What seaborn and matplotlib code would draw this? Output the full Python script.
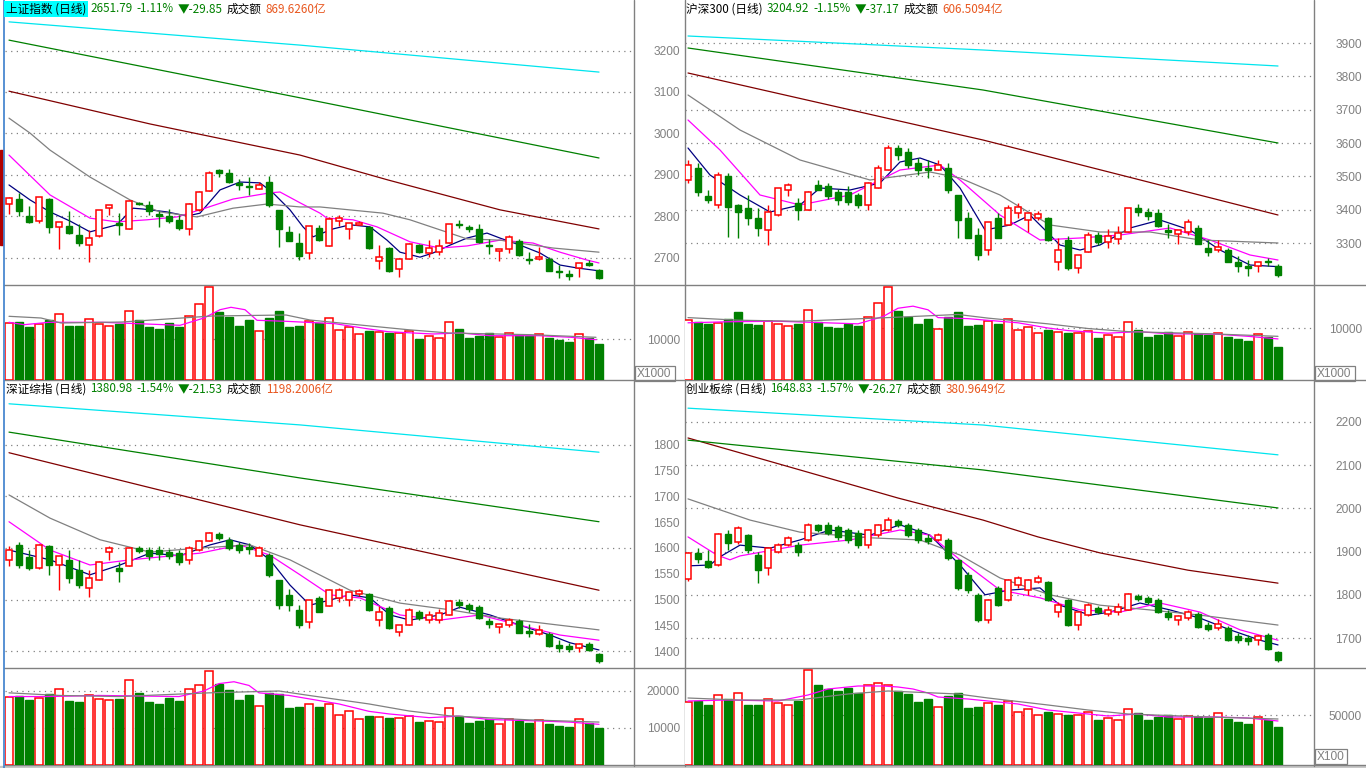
import numpy as np
import matplotlib
matplotlib.use("Agg")
import matplotlib.pyplot as plt
import seaborn as sns
from matplotlib.patches import Rectangle

W, H = 1366, 768
RED = "#FF0000"
GREEN = "#008000"
GRID = "#808080"
ORANGE = "#E8561E"

sns.set_theme(style="white")
plt.rcParams['font.family'] = ['Noto Sans CJK SC', 'DejaVu Sans']

# ---------------- 上证指数 ----------------
sh_open = [2829, 2841, 2800, 2788, 2843, 2774, 2777, 2756, 2731, 2752,
           2820, 2785, 2771, 2833, 2828, 2806, 2801, 2792, 2769, 2815,
           2861, 2912, 2906, 2881, 2872, 2866, 2883, 2816, 2763, 2737,
           2711, 2772, 2729, 2790, 2769, 2780, 2775, 2692, 2723, 2673,
           2698, 2731, 2713, 2715, 2735, 2782, 2774, 2770, 2731, 2716,
           2721, 2741, 2697, 2697, 2698, 2669, 2661, 2677, 2689, 2671]
sh_high = [2848, 2857, 2825, 2846, 2845, 2787, 2814, 2782, 2768, 2815,
           2827, 2808, 2840, 2836, 2838, 2814, 2817, 2804, 2833, 2862,
           2910, 2914, 2914, 2890, 2896, 2882, 2898, 2816, 2777, 2760,
           2778, 2780, 2798, 2804, 2785, 2788, 2777, 2731, 2727, 2697,
           2737, 2734, 2743, 2745, 2781, 2792, 2780, 2781, 2745, 2721,
           2755, 2745, 2715, 2727, 2703, 2683, 2671, 2687, 2695, 2673]
sh_low = [2805, 2801, 2784, 2784, 2760, 2722, 2758, 2730, 2691, 2750,
          2803, 2755, 2771, 2828, 2804, 2775, 2784, 2768, 2755, 2813,
          2861, 2895, 2880, 2864, 2851, 2866, 2824, 2727, 2740, 2695,
          2697, 2742, 2729, 2777, 2745, 2779, 2722, 2674, 2667, 2655,
          2698, 2713, 2702, 2707, 2735, 2772, 2762, 2737, 2710, 2693,
          2713, 2705, 2685, 2695, 2668, 2651, 2647, 2655, 2681, 2649]
sh_close = [2844, 2814, 2787, 2846, 2775, 2787, 2761, 2735, 2747, 2815,
            2827, 2780, 2837, 2830, 2814, 2800, 2789, 2772, 2830, 2859,
            2906, 2904, 2884, 2875, 2870, 2876, 2828, 2769, 2742, 2705,
            2778, 2743, 2793, 2796, 2785, 2784, 2724, 2703, 2669, 2697,
            2733, 2715, 2723, 2729, 2781, 2779, 2771, 2739, 2728, 2721,
            2750, 2706, 2694, 2702, 2669, 2666, 2657, 2687, 2682, 2651.79]
sh_vol = [13902, 14073, 13000, 13585, 14707, 16024, 13244, 13244, 14805, 13732,
          13171, 13732, 16756, 14634, 13000, 12512, 13902, 13000, 15536, 18463,
          22610, 16585, 15439, 13244, 14634, 11878, 15195, 16829, 13000, 13244,
          14463, 13902, 15122, 12122, 12927, 11146, 12024, 11707, 11537, 11463,
          12024, 10000, 10732, 10244, 14073, 12439, 10317, 10805, 11463, 10415,
          11390, 11049, 10805, 11293, 10244, 9756, 9268, 11146, 10244, 8780]
sh_ma5 = [(0, 2876), (2.1, 2840), (4.1, 2811), (6.1, 2789), (8.1, 2763), (10.8, 2780),
          (12.4, 2820), (13.4, 2818), (15.8, 2811), (17.8, 2801), (19.1, 2808),
          (21.1, 2864), (23.1, 2883), (25.1, 2881), (26.4, 2857), (28.1, 2816),
          (29.4, 2775), (30.4, 2751), (32.4, 2770), (34.1, 2780), (36.1, 2775),
          (37.8, 2743), (39.1, 2714), (41.1, 2702), (42.4, 2712), (44.1, 2731),
          (45.8, 2748), (47.8, 2760), (49.1, 2748), (51.1, 2731), (53.1, 2712),
          (55.1, 2683), (56.8, 2676), (59, 2669)]
sh_ma10 = [(0, 2948), (4.1, 2852), (8.1, 2796), (10.8, 2787), (13.8, 2792), (16.8, 2799),
           (19.1, 2816), (22.4, 2842), (26.1, 2857), (27.1, 2859), (29.1, 2833),
           (31.1, 2808), (31.8, 2796), (34.4, 2792), (36.8, 2775), (40.1, 2739),
           (43.1, 2724), (45.8, 2729), (49.1, 2743), (52.4, 2736), (55.1, 2714),
           (57.8, 2695), (59, 2688)]
sh_ma20 = [(0, 3037), (2.1, 3001), (4.1, 2960), (8.1, 2895), (12.1, 2840), (15.1, 2811),
           (18.8, 2799), (22.4, 2820), (25.8, 2830), (29.1, 2823), (31.1, 2823),
           (37.4, 2808), (40.1, 2792), (45.8, 2746), (49.1, 2743), (54.4, 2724), (59, 2714)]
sh_ma60 = [(0, 3102), (14.1, 3023), (29.1, 2948), (37.9, 2888), (49.1, 2816), (59, 2770)]
sh_ma120 = [(0, 3225), (29.1, 3086), (59, 2941)]
sh_ma250 = [(0, 3269), (29.1, 3213), (59, 3148)]
sh_vma5 = [(0, 14073), (1.5, 13488), (4, 14073), (9.3, 14073), (17.1, 13341), (19.5, 15122),
           (21.1, 17146), (22.2, 17732), (23.6, 17146), (24.8, 14561), (27.7, 14317),
           (32.6, 13732), (35.8, 12512), (37.9, 11780), (42.4, 11220), (45.2, 11463),
           (48.1, 10805), (53, 10805), (56.2, 10415), (58.7, 9829)]
sh_vma10 = [(0, 15536), (3.2, 15122), (5.2, 13902), (11.3, 14146), (20.3, 15610),
            (27.7, 15854), (30.1, 14634), (35.8, 13244), (39.9, 12268), (44, 11463),
            (52.2, 11049), (58.7, 10415)]

# ---------------- 沪深300 ----------------
hs_open = [3489, 3525, 3441, 3414, 3501, 3414, 3405, 3375, 3339, 3384,
           3459, 3420, 3399, 3474, 3471, 3453, 3453, 3444, 3414, 3465,
           3519, 3585, 3573, 3540, 3525, 3519, 3525, 3444, 3375, 3324,
           3279, 3375, 3354, 3390, 3369, 3375, 3375, 3243, 3309, 3225,
           3273, 3324, 3303, 3312, 3333, 3405, 3393, 3390, 3339, 3327,
           3333, 3345, 3285, 3279, 3279, 3243, 3231, 3231, 3246, 3231]
hs_high = [3549, 3540, 3459, 3513, 3510, 3417, 3444, 3405, 3414, 3465,
           3480, 3435, 3456, 3489, 3480, 3462, 3471, 3450, 3483, 3534,
           3594, 3594, 3585, 3555, 3549, 3549, 3540, 3444, 3393, 3345,
           3363, 3390, 3414, 3420, 3390, 3396, 3378, 3315, 3321, 3264,
           3333, 3333, 3342, 3351, 3405, 3417, 3405, 3402, 3357, 3339,
           3372, 3354, 3309, 3309, 3285, 3261, 3249, 3243, 3255, 3237]
hs_low = [3480, 3441, 3420, 3405, 3318, 3315, 3354, 3321, 3294, 3381,
          3441, 3369, 3399, 3459, 3432, 3414, 3414, 3405, 3399, 3465,
          3519, 3549, 3525, 3504, 3495, 3519, 3450, 3315, 3315, 3249,
          3264, 3315, 3354, 3375, 3333, 3369, 3306, 3219, 3219, 3210,
          3273, 3294, 3285, 3297, 3333, 3381, 3369, 3348, 3315, 3297,
          3324, 3297, 3261, 3273, 3243, 3213, 3201, 3213, 3231, 3198]
hs_close = [3534, 3453, 3429, 3504, 3408, 3393, 3375, 3345, 3393, 3465,
            3474, 3399, 3453, 3459, 3441, 3429, 3423, 3414, 3480, 3525,
            3585, 3564, 3534, 3519, 3519, 3534, 3459, 3369, 3315, 3264,
            3363, 3315, 3405, 3408, 3390, 3387, 3309, 3279, 3225, 3264,
            3324, 3303, 3321, 3330, 3405, 3393, 3381, 3351, 3333, 3339,
            3363, 3297, 3273, 3288, 3243, 3231, 3225, 3243, 3242, 3204.92]
hs_vol = [11500, 11200, 10800, 11000, 11800, 13000, 10800, 10500, 11400, 10800,
          10400, 10800, 13500, 11200, 10200, 10000, 10800, 10300, 12200, 14800,
          17900, 13300, 12200, 10800, 11800, 9800, 12200, 13000, 10300, 10500,
          11300, 10800, 11800, 9700, 10200, 9000, 9600, 9200, 9100, 9000,
          9500, 8000, 8600, 8300, 11200, 9700, 8300, 8700, 9200, 8400,
          9200, 8900, 8600, 9000, 8200, 7800, 7500, 8900, 8200, 6400]
hs_ma5 = [(0, 3585), (2.2, 3504), (5.2, 3444), (8.2, 3393), (11.2, 3414), (13.2, 3465),
          (16.2, 3459), (19.2, 3480), (21.2, 3543), (23.2, 3555), (25.2, 3534),
          (27.2, 3465), (29.7, 3339), (32.2, 3354), (34.2, 3384), (37.2, 3294),
          (39.2, 3279), (41.2, 3294), (44.2, 3345), (47.2, 3369), (50.2, 3339),
          (53.2, 3279), (56.2, 3234), (59, 3229)]
hs_ma10 = [(0, 3669), (3.2, 3579), (7.2, 3444), (11.2, 3414), (16.2, 3444), (21.2, 3519),
           (25.2, 3534), (27.2, 3489), (31.2, 3384), (35.2, 3309), (39.2, 3315),
           (43.2, 3324), (48.2, 3345), (52.2, 3309), (56.2, 3264), (59, 3249)]
hs_ma20 = [(0, 3744), (5.2, 3639), (11.2, 3549), (18.2, 3489), (24.2, 3513), (27.2, 3495),
           (31.2, 3444), (36.2, 3354), (41.2, 3333), (46.2, 3333), (51.2, 3309), (59, 3300)]
hs_ma60 = [(0, 3810), (29.5, 3609), (59, 3384)]
hs_ma120 = [(0, 3885), (29.5, 3759), (59, 3600)]
hs_ma250 = [(0, 3921), (29.5, 3879), (59, 3831)]
hs_vma5 = [(0, 11000), (4, 11200), (9, 11300), (17, 10800), (19.5, 12200), (21, 13800),
           (22.5, 14200), (24, 13500), (25, 12000), (28, 11800), (33, 11000), (36, 10000),
           (38, 9500), (42, 9000), (45, 9300), (48, 8900), (53, 8800), (56, 8400), (59, 7900)]
hs_vma10 = [(0, 12000), (5, 11500), (11, 11300), (20, 12000), (27, 12600), (30, 11900),
            (36, 10800), (40, 9900), (44, 9300), (52, 8900), (59, 8400)]

# ---------------- 深证综指 ----------------
sz_open = [1577, 1606, 1583, 1561, 1604, 1567, 1577, 1557, 1522, 1538,
           1592, 1561, 1565, 1600, 1596, 1596, 1592, 1590, 1577, 1596,
           1614, 1627, 1616, 1606, 1602, 1585, 1586, 1538, 1509, 1480,
           1456, 1503, 1487, 1503, 1499, 1511, 1511, 1460, 1484, 1437,
           1450, 1476, 1460, 1460, 1470, 1495, 1489, 1485, 1458, 1447,
           1450, 1458, 1439, 1433, 1433, 1412, 1410, 1406, 1414, 1394]
sz_high = [1604, 1612, 1596, 1608, 1606, 1585, 1596, 1577, 1557, 1575,
           1604, 1573, 1602, 1604, 1602, 1604, 1598, 1596, 1604, 1616,
           1631, 1631, 1621, 1612, 1610, 1604, 1590, 1538, 1520, 1490,
           1499, 1507, 1520, 1522, 1515, 1521, 1513, 1488, 1488, 1450,
           1484, 1480, 1478, 1482, 1499, 1501, 1493, 1489, 1464, 1452,
           1464, 1462, 1452, 1450, 1437, 1421, 1416, 1416, 1418, 1396]
sz_low = [1565, 1561, 1557, 1559, 1548, 1518, 1532, 1522, 1505, 1538,
          1577, 1534, 1565, 1590, 1577, 1577, 1579, 1567, 1569, 1594,
          1614, 1615, 1596, 1590, 1588, 1585, 1544, 1482, 1478, 1445,
          1445, 1476, 1487, 1495, 1488, 1507, 1478, 1448, 1443, 1430,
          1450, 1460, 1454, 1454, 1470, 1484, 1476, 1462, 1445, 1435,
          1447, 1435, 1428, 1431, 1408, 1398, 1398, 1398, 1400, 1377]
sz_close = [1596, 1567, 1561, 1606, 1567, 1585, 1542, 1528, 1542, 1573,
            1600, 1555, 1600, 1594, 1585, 1588, 1585, 1573, 1600, 1614,
            1629, 1619, 1600, 1596, 1598, 1600, 1548, 1489, 1489, 1450,
            1499, 1476, 1518, 1518, 1515, 1517, 1480, 1476, 1445, 1450,
            1480, 1464, 1470, 1474, 1497, 1489, 1482, 1464, 1452, 1452,
            1460, 1435, 1435, 1441, 1410, 1406, 1404, 1414, 1402.51, 1380.98]
sz_vol = [18300, 18600, 17600, 18100, 19200, 20500, 17400, 17100, 18900, 17800,
          17600, 17800, 23000, 19500, 17000, 16500, 18000, 17300, 20500, 21500,
          25500, 21800, 20300, 17700, 18900, 16000, 19400, 19200, 15400, 15800,
          16500, 15600, 16600, 13600, 14500, 12500, 13300, 13000, 12700, 12600,
          13300, 11500, 12000, 11700, 15400, 13300, 11300, 12000, 12300, 11100,
          12300, 11800, 11400, 12200, 11100, 10600, 10400, 12300, 11300, 10000]
sz_ma5 = [(0, 1596), (4.1, 1577), (8.1, 1548), (11.1, 1567), (14.1, 1590), (17.1, 1585),
          (20.1, 1606), (22.1, 1616), (24.1, 1606), (26.1, 1577), (28.1, 1528),
          (30.1, 1489), (32.1, 1499), (34.1, 1509), (36.1, 1503), (38.1, 1470),
          (40.1, 1460), (43.1, 1470), (45.1, 1485), (48.1, 1470), (51.1, 1450),
          (54.1, 1431), (56.1, 1416), (59, 1402)]
sz_ma10 = [(0, 1651), (4.1, 1596), (8.1, 1567), (12.1, 1577), (19.1, 1590), (23.1, 1606),
           (26.1, 1586), (29.1, 1548), (32.1, 1509), (35.1, 1503), (39.1, 1470),
           (43.1, 1460), (47.1, 1470), (51.1, 1450), (55.1, 1431), (59, 1421)]
sz_ma20 = [(0, 1703), (4.1, 1658), (9.1, 1616), (14.1, 1592), (19.1, 1600), (24.1, 1606),
           (28.1, 1577), (34.1, 1518), (39.1, 1493), (44.1, 1480), (49.1, 1464),
           (55.1, 1450), (59, 1441)]
sz_ma60 = [(0, 1785), (29.1, 1645), (59, 1518)]
sz_ma120 = [(0, 1825), (29.1, 1736), (59, 1651)]
sz_ma250 = [(0, 1880), (29.1, 1839), (59, 1786)]
sz_vma5 = [(0, 18500), (4, 18500), (9, 18800), (17, 18500), (19.5, 20000), (21, 22000),
           (22.5, 22500), (24, 21500), (25, 19500), (28, 18800), (33, 16500), (36, 14500),
           (38, 13800), (42, 12800), (45, 13200), (48, 12300), (53, 11900), (56, 11600), (59, 11000)]
sz_vma10 = [(0, 19500), (5, 18800), (11, 18500), (20, 19500), (27, 20000), (30, 18800),
            (36, 16500), (40, 14600), (44, 13300), (52, 12200), (59, 11600)]

# ---------------- 创业板综 ----------------
cy_open = [1837, 1897, 1878, 1869, 1941, 1922, 1938, 1892, 1862, 1899,
           1915, 1915, 1927, 1962, 1962, 1957, 1950, 1943, 1915, 1938,
           1950, 1971, 1962, 1950, 1932, 1927, 1927, 1881, 1846, 1800,
           1742, 1816, 1788, 1823, 1811, 1830, 1830, 1760, 1788, 1730,
           1753, 1769, 1756, 1760, 1765, 1797, 1793, 1788, 1758, 1742,
           1746, 1756, 1730, 1723, 1723, 1705, 1700, 1695, 1707, 1668]
cy_high = [1899, 1908, 1904, 1943, 1950, 1960, 1940, 1899, 1910, 1920,
           1936, 1922, 1966, 1964, 1969, 1962, 1955, 1950, 1952, 1964,
           1980, 1976, 1966, 1955, 1940, 1943, 1932, 1883, 1853, 1804,
           1790, 1820, 1836, 1843, 1836, 1846, 1832, 1783, 1790, 1760,
           1781, 1774, 1774, 1781, 1804, 1802, 1797, 1793, 1765, 1753,
           1765, 1760, 1737, 1744, 1728, 1712, 1707, 1707, 1712, 1670]
cy_low = [1832, 1874, 1862, 1866, 1904, 1918, 1897, 1827, 1846, 1897,
          1913, 1890, 1925, 1945, 1938, 1927, 1920, 1908, 1908, 1934,
          1948, 1957, 1934, 1920, 1918, 1925, 1881, 1811, 1804, 1737,
          1735, 1774, 1786, 1816, 1800, 1827, 1786, 1749, 1728, 1719,
          1751, 1756, 1751, 1753, 1765, 1786, 1779, 1758, 1742, 1730,
          1742, 1723, 1716, 1719, 1693, 1688, 1684, 1684, 1672, 1645]
cy_close = [1897, 1883, 1864, 1941, 1920, 1955, 1904, 1857, 1908, 1915,
            1932, 1899, 1962, 1950, 1943, 1934, 1927, 1915, 1950, 1962,
            1973, 1962, 1938, 1927, 1925, 1938, 1885, 1816, 1811, 1742,
            1788, 1776, 1834, 1839, 1834, 1839, 1788, 1776, 1730, 1760,
            1776, 1760, 1765, 1772, 1802, 1790, 1783, 1760, 1749, 1751,
            1760, 1725, 1721, 1732, 1695, 1695, 1693, 1705, 1675.1, 1648.83]
cy_vol = [63000, 64000, 60000, 70000, 66000, 72000, 60000, 60000, 66000, 62000,
          60000, 64000, 95000, 80000, 76000, 74000, 77000, 72000, 80000, 82000,
          80000, 74000, 71000, 63000, 66000, 58000, 69000, 72000, 57000, 58000,
          62000, 60000, 64000, 53000, 56000, 50000, 53000, 51000, 50000, 50000,
          53000, 45000, 47000, 45000, 56000, 52000, 45000, 48000, 50000, 46000,
          49000, 48000, 47000, 52000, 46000, 43000, 41000, 48000, 45000, 38000]
cy_ma5 = [(0, 1867), (2.2, 1869), (3.2, 1888), (5.2, 1915), (8.2, 1908), (11.2, 1927),
          (14.2, 1950), (18.2, 1938), (21.2, 1962), (24.2, 1938), (27.2, 1869),
          (29.7, 1800), (32.2, 1811), (35.2, 1816), (37.2, 1776), (40.2, 1753),
          (42.2, 1760), (45.2, 1781), (48.2, 1765), (51.2, 1746), (54.2, 1719),
          (57.2, 1695), (59, 1684)]
cy_ma10 = [(0, 1934), (2.9, 1892), (4.2, 1881), (5.2, 1890), (11.2, 1915), (16.2, 1927),
           (21.2, 1950), (24.2, 1938), (27.2, 1881), (31.2, 1811), (35.2, 1793),
           (39.2, 1765), (43.2, 1760), (47.2, 1781), (51.2, 1760), (55.2, 1719), (59, 1695)]
cy_ma20 = [(0, 2022), (6.2, 1973), (11.2, 1945), (18.2, 1932), (23.2, 1927), (27.2, 1892),
           (31.2, 1839), (36.2, 1800), (41.2, 1776), (46.2, 1765), (51.2, 1753), (59, 1730)]
cy_ma60 = [(0, 2163), (11.2, 2089), (21, 2024), (29.5, 1973), (35, 1934), (41.2, 1897),
           (50, 1857), (59, 1827)]
cy_ma120 = [(0, 2158), (29.5, 2089), (59, 2001)]
cy_ma250 = [(0, 2232), (29.5, 2193), (59, 2124)]
cy_vma5 = [(0, 64000), (4, 65000), (9, 64000), (12, 70000), (14, 76000), (17, 79000),
           (19.5, 79000), (21, 78000), (22.5, 76000), (24, 72000), (25, 68000), (28, 66000),
           (33, 61000), (36, 55000), (38, 53000), (42, 49000), (45, 51000), (48, 48000),
           (53, 48000), (56, 47000), (59, 44000)]
cy_vma10 = [(0, 67000), (5, 65000), (11, 65000), (16, 71000), (20, 74000), (27, 71000),
            (30, 67000), (36, 60000), (40, 55000), (44, 51000), (52, 48000), (59, 46000)]

MA_COLORS = ["#000080", "#FF00FF", "#808080", "#800000", "#008000", "#00E5EE"]


def px_axes(fig, x0, y0, x1, y1):
    ax = fig.add_axes([x0 / W, 1 - y1 / H, (x1 - x0) / W, (y1 - y0) / H])
    ax.set_facecolor("none")
    for s in ax.spines.values():
        s.set_visible(False)
    ax.set_xticks([])
    return ax


def right_labels(ax, ticks, pad_px):
    ax.yaxis.tick_right()
    ax.set_yticks(ticks)
    ax.set_yticklabels([str(t) for t in ticks], color=GRID, fontsize=8.6,
                       family=["Liberation Sans", "DejaVu Sans"])
    ax.tick_params(axis="y", length=0, pad=pad_px * 0.72)
    for t in ax.get_yticklabels():
        t.set_ha("right")


def draw_ma(ax, pts, color):
    xs = [p[0] for p in pts]
    ys = [p[1] for p in pts]
    sns.lineplot(x=xs, y=ys, ax=ax, color=color, linewidth=0.9, sort=False,
                 estimator=None, legend=False, zorder=4)


def draw_candles(ax, o, h, l, c, minh):
    o, h, l, c = map(np.asarray, (o, h, l, c))
    x = np.arange(len(o))
    up = c >= o
    bot = np.minimum(o, c)
    hgt = np.maximum(np.abs(c - o), minh)
    ax.vlines(x[up], l[up], h[up], color=RED, lw=1.0, zorder=5)
    ax.vlines(x[~up], l[~up], h[~up], color=GREEN, lw=1.0, zorder=5)
    ax.bar(x[up], hgt[up], bottom=bot[up], width=0.62, facecolor="white",
           edgecolor=RED, linewidth=1.1, zorder=6)
    ax.bar(x[~up], hgt[~up], bottom=bot[~up], width=0.62, facecolor=GREEN,
           edgecolor=GREEN, linewidth=1.0, zorder=6)


def draw_volume(ax, o, c, v):
    o, c, v = map(np.asarray, (o, c, v))
    x = np.arange(len(v))
    up = c >= o
    ax.bar(x[up], v[up], width=0.72, facecolor="white", edgecolor=RED, linewidth=1.1, zorder=3)
    ax.bar(x[~up], v[~up], width=0.72, facecolor=GREEN, edgecolor=GREEN, linewidth=1.0, zorder=3)


fig = plt.figure(figsize=(W / 100, H / 100), dpi=100)
fig.patch.set_facecolor("white")

# background canvas in pixel coordinates
bg = fig.add_axes([0, 0, 1, 1])
bg.set_xlim(0, W)
bg.set_ylim(H, 0)
bg.axis("off")
for xv in (634, 685, 1314):
    bg.plot([xv, xv], [0, 766], color=GRID, lw=1.0)
for yv in (285, 380, 668, 765):
    bg.plot([4, W], [yv, yv], color=GRID, lw=1.0)
bg.add_patch(Rectangle((0, 766), W, 3, color="#C8C8C8"))
bg.plot([4, 4], [0, H], color="#4A88D0", lw=1.3)
bg.add_patch(Rectangle((0, 150), 3, 95, color="#B00000"))
for (bx, by, bw, txt) in [(635, 366, 40, "X1000"), (1315, 366, 40, "X1000"), (1315, 749, 32, "X100")]:
    bg.add_patch(Rectangle((bx, by), bw, 15, facecolor="white", edgecolor=GRID, lw=0.9))
    bg.text(bx + 2, by + 8, txt, color=GRID, fontsize=8.6, va="center", ha="left",
            family=["Liberation Sans", "DejaVu Sans"])

panels = [
    dict(x0=5, x1=634, y0=0, y1=285, yv1=380, first=9,
         o=sh_open, h=sh_high, l=sh_low, c=sh_close, v=sh_vol,
         ma=[sh_ma5, sh_ma10, sh_ma20, sh_ma60, sh_ma120, sh_ma250], vma=[sh_vma5, sh_vma10],
         ylim=(2634.9, 3321.7), ticks=[2700, 2800, 2900, 3000, 3100, 3200],
         grid=[2700, 2800, 2900, 3000, 3100, 3200],
         vylim=(0, 23171), vticks=[10000], pad=46),
    dict(x0=685, x1=1314, y0=0, y1=285, yv1=380, first=688,
         o=hs_open, h=hs_high, l=hs_low, c=hs_close, v=hs_vol,
         ma=[hs_ma5, hs_ma10, hs_ma20, hs_ma60, hs_ma120, hs_ma250], vma=[hs_vma5, hs_vma10],
         ylim=(3174, 4029), ticks=[3300, 3400, 3500, 3600, 3700, 3800, 3900],
         grid=[3300, 3400, 3500, 3600, 3700, 3800, 3900],
         vylim=(0, 18270), vticks=[10000], pad=48),
    dict(x0=5, x1=634, y0=380, y1=668, yv1=765, first=9,
         o=sz_open, h=sz_high, l=sz_low, c=sz_close, v=sz_vol,
         ma=[sz_ma5, sz_ma10, sz_ma20, sz_ma60, sz_ma120, sz_ma250], vma=[sz_vma5, sz_vma10],
         ylim=(1367, 1926.2), ticks=[1400, 1450, 1500, 1550, 1600, 1650, 1700, 1750, 1800],
         grid=[1400, 1500, 1600, 1700, 1800],
         vylim=(0, 26216), vticks=[10000, 20000], pad=46),
    dict(x0=685, x1=1314, y0=380, y1=668, yv1=765, first=688,
         o=cy_open, h=cy_high, l=cy_low, c=cy_close, v=cy_vol,
         ma=[cy_ma5, cy_ma10, cy_ma20, cy_ma60, cy_ma120, cy_ma250], vma=[cy_vma5, cy_vma10],
         ylim=(1630.6, 2297.2), ticks=[1700, 1800, 1900, 2000, 2100, 2200],
         grid=[1700, 1800, 1900, 2000, 2100, 2200],
         vylim=(0, 97000), vticks=[50000], pad=48),
]

for p in panels:
    xl = ((p["x0"] - p["first"]) / 10, (p["x1"] - p["first"]) / 10)
    ax = px_axes(fig, p["x0"], p["y0"], p["x1"], p["y1"])
    ax.set_xlim(*xl)
    ax.set_ylim(*p["ylim"])
    right_labels(ax, p["ticks"], p["pad"])
    for g in p["grid"]:
        ax.axhline(g, color=GRID, lw=0.9, ls=(0, (1, 3.5)), zorder=0)
    minh = (p["ylim"][1] - p["ylim"][0]) / (p["y1"] - p["y0"]) * 1.2
    for pts, col in zip(p["ma"], MA_COLORS):
        draw_ma(ax, pts, col)
    draw_candles(ax, p["o"], p["h"], p["l"], p["c"], minh)

    vax = px_axes(fig, p["x0"], p["y1"], p["x1"], p["yv1"])
    vax.set_xlim(*xl)
    vax.set_ylim(*p["vylim"])
    right_labels(vax, p["vticks"], p["pad"])
    for g in p["vticks"]:
        vax.axhline(g, color=GRID, lw=0.9, ls=(0, (1, 3.5)), zorder=0)
    draw_volume(vax, p["o"], p["c"], p["v"])
    for pts, col in zip(p["vma"], ["#FF00FF", "#808080"]):
        draw_ma(vax, pts, col)

# titles, laid out segment after segment
titles = [
    (6, 9, [("上证指数 (日线)", "black"), ("2651.79", GREEN), ("-1.11%", GREEN),
            ("▼-29.85", GREEN), ("成交额", "black"), ("869.6260亿", ORANGE)]),
    (686, 9, [("沪深300 (日线)", "black"), ("3204.92", GREEN), ("-1.15%", GREEN),
              ("▼-37.17", GREEN), ("成交额", "black"), ("606.5094亿", ORANGE)]),
    (6, 389, [("深证综指 (日线)", "black"), ("1380.98", GREEN), ("-1.54%", GREEN),
              ("▼-21.53", GREEN), ("成交额", "black"), ("1198.2006亿", ORANGE)]),
    (686, 389, [("创业板综 (日线)", "black"), ("1648.83", GREEN), ("-1.57%", GREEN),
                ("▼-26.27", GREEN), ("成交额", "black"), ("380.9649亿", ORANGE)]),
]
fig.canvas.draw()
rend = fig.canvas.get_renderer()
for i, (tx, ty, segs) in enumerate(titles):
    x = tx
    for j, (txt, col) in enumerate(segs):
        kw = {}
        if i == 0 and j == 0:
            kw["bbox"] = dict(facecolor="#00FFFF", edgecolor="none", pad=1.2)
        t = bg.text(x, ty, txt, color=col, fontsize=8.4, va="center", ha="left", zorder=10, **kw)
        x += t.get_window_extent(renderer=rend).width + 4

fig.savefig("out.png", dpi=100, facecolor="white")
